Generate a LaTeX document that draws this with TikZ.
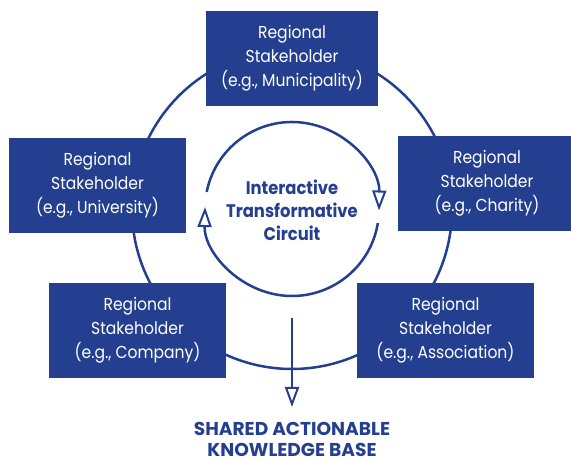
\documentclass[tikz,border=0pt]{standalone}
\usepackage{fontspec}
\newfontfamily\regfont[FakeStretch=0.9]{Poppins}
\newfontfamily\capfont{Poppins}
\usetikzlibrary{arrows.meta}
\definecolor{navy}{HTML}{243F8F}
\begin{document}
\begin{tikzpicture}[x=1pt,y=1pt,
  stake/.style={fill=navy, text=white, minimum width=177pt, minimum height=95pt,
    inner sep=0pt, align=center, font=\regfont\fontsize{17.3}{24}\selectfont},
  ring/.style={draw=navy, line width=2.5pt},
  opentip/.style={-{Triangle[open,length=20pt,width=14pt,line width=2pt]}},
  title/.style={text=navy, align=center, font=\regfont\bfseries\fontsize{18.2}{23}\selectfont},
  kbtext/.style={text=navy, anchor=base, inner sep=0pt, font=\capfont\bfseries\fontsize{18.6}{22}\selectfont}
]
\useasboundingbox (0,0) rectangle (571,461);
% outer ring
\draw[ring] (292,252) circle[radius=160pt];
% inner circuit
\coordinate (c) at (292,252);
\draw[ring,opentip] (c) ++(168.7:87pt) arc[start angle=168.7, end angle=-1, radius=87pt];
\draw[ring,opentip] (c) ++(-9.3:87pt) arc[start angle=-9.3, end angle=-181.3, radius=87pt];
\node[title] (itc) at (292,251) {Interactive\\Transformative\\Circuit};
% stakeholders
\node[stake, minimum width=172pt] (mun) at (292,402.5) {Regional\\Stakeholder\\(e.g., Municipality)};
\node[stake] (uni) at (97.5,275.5) {Regional\\Stakeholder\\(e.g., University)};
\node[stake, minimum width=178pt] (cha) at (487,277.5) {Regional\\Stakeholder\\(e.g., Charity)};
\node[stake] (com) at (137.5,130.5) {Regional\\Stakeholder\\(e.g., Company)};
\node[stake] (ass) at (445.5,130.5) {Regional\\Stakeholder\\(e.g., Association)};
% output
\node[kbtext] (kb) at (292,25.5) {SHARED ACTIONABLE};
\node[kbtext] (kb2) at (292,4) {KNOWLEDGE BASE};
\coordinate (outstart) at (292,143);
\coordinate (outend) at (292,54);
\draw[ring,opentip] (outstart) -- (outend);
\end{tikzpicture}
\end{document}
